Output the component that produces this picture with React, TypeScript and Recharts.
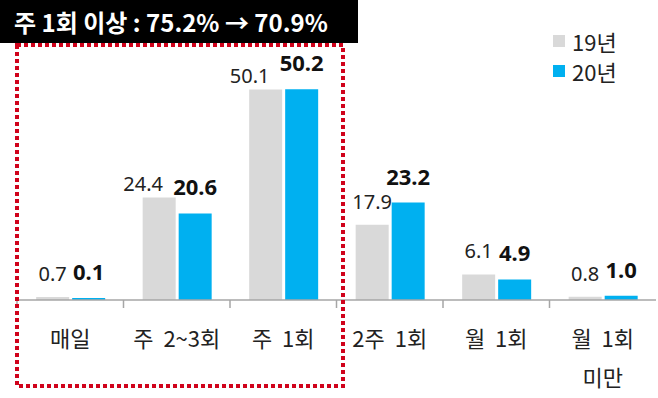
import React from 'react'
import { BarChart, Bar, XAxis, YAxis, LabelList } from 'recharts'

const categories = ['매일', '주 2~3회', '주 1회', '2주 1회', '월 1회', '월 1회\n미만']
const y2019 = [0.7, 24.4, 50.1, 17.9, 6.1, 0.8]
const y2020 = [0.1, 20.6, 50.2, 23.2, 4.9, 1.0]
const seriesNames = ['19년', '20년']

const W = 658
const H = 398
const MARGIN = { top: 48, right: 2, left: 17, bottom: 0 }
const GRAY = '#d9d9d9'
const BLUE = '#00b0f0'
const FONT = "'Noto Sans CJK KR', 'Noto Sans', sans-serif"
const NUM_FONT = "'Noto Sans', 'Noto Sans CJK KR', sans-serif"
const BAND = (W - MARGIN.left - MARGIN.right) / categories.length
const GRAY_FS = 20
const BLUE_FS = 22
const GRAY_GAP = 16
const BLUE_GAP = 18

const data = categories.map((c, i) => ({ cat: c, a: y2019[i], b: y2020[i] }))

const CatTick = (props: any) => {
  const { x, y, payload } = props
  const lines = String(payload.value).split('\n')
  const left = x - BAND / 2
  return (
    <g>
      <line x1={left} x2={left} y1={y - 8} y2={y} stroke="#a6a6a6" strokeWidth={1.5} />
      {lines.map((l, i) => (
        <text key={i} x={x} y={y + 39 + i * 39} textAnchor="middle" fontSize={22} fill="#222" fontFamily={FONT} style={{ wordSpacing: 5 }}>
          {l}
        </text>
      ))}
    </g>
  )
}

// gray value label: tucked left and lower when it would collide with the bold 20년 label
const GrayLabel = (props: any) => {
  const { x, y, width, height, index, value } = props
  const txt = Number(value).toFixed(1)
  const other = y2020[index].toFixed(1)
  const cx = x + width / 2
  const scale = height / (value || 1)
  const otherTop = y + height - y2020[index] * scale
  const myBase = y - GRAY_GAP
  const otherBase = otherTop - BLUE_GAP
  const myRight = cx + (txt.length * 0.5 * GRAY_FS) / 2
  const otherLeft = cx + width + 3 - (other.length * 0.55 * BLUE_FS) / 2
  const clash = Math.abs(myBase - otherBase) < BLUE_FS && myRight > otherLeft
  return (
    <text x={clash ? cx - 16 : cx} y={clash ? y - 7 : myBase} textAnchor="middle" fontSize={GRAY_FS} fill="#222" fontFamily={NUM_FONT}>
      {txt}
    </text>
  )
}

export default function App() {
  return (
    <div style={{ position: 'absolute', left: 0, top: 0, width: W, height: H, background: '#fff' }}>
      <BarChart width={W} height={H} data={data} margin={MARGIN} barCategoryGap="18%" barGap={3}>
        <XAxis
          dataKey="cat"
          interval={0}
          height={98}
          tickLine={false}
          axisLine={{ stroke: '#a6a6a6', strokeWidth: 1.5 }}
          tick={<CatTick />}
        />
        <YAxis hide domain={[0, 60]} />
        <Bar dataKey="a" name={seriesNames[0]} fill={GRAY} minPointSize={2} isAnimationActive={false}>
          <LabelList dataKey="a" content={<GrayLabel />} />
        </Bar>
        <Bar dataKey="b" name={seriesNames[1]} fill={BLUE} minPointSize={2} isAnimationActive={false}>
          <LabelList dataKey="b" position="top" offset={BLUE_GAP} fontSize={BLUE_FS} fontWeight="bold" fill="#111" fontFamily={NUM_FONT} formatter={(v: any) => Number(v).toFixed(1)} />
        </Bar>
      </BarChart>
      <div
        style={{
          position: 'absolute', left: 0, top: 0, width: 358, height: 43, background: '#000', color: '#fff',
          fontFamily: FONT, fontSize: 24, fontWeight: 'bold', lineHeight: '43px', paddingLeft: 14, boxSizing: 'border-box',
          whiteSpace: 'nowrap',
        }}
      >
        주 1회 이상 : 75.2% → 70.9%
      </div>
      <div style={{ position: 'absolute', left: 553, top: 26, fontFamily: FONT, fontSize: 22, color: '#222', lineHeight: '30px' }}>
        {seriesNames.map((n, i) => (
          <div key={n} style={{ display: 'flex', alignItems: 'center' }}>
            <span style={{ width: 12, height: 12, background: i === 0 ? GRAY : BLUE, marginRight: 7, display: 'inline-block' }} />
            {n}
          </div>
        ))}
      </div>
      <svg style={{ position: 'absolute', left: 0, top: 0, pointerEvents: 'none' }} width={W} height={H}>
        <rect x={17} y={45} width={326} height={341} fill="none" stroke="#d0021b" strokeWidth={4} strokeDasharray="4 3" />
      </svg>
    </div>
  )
}
